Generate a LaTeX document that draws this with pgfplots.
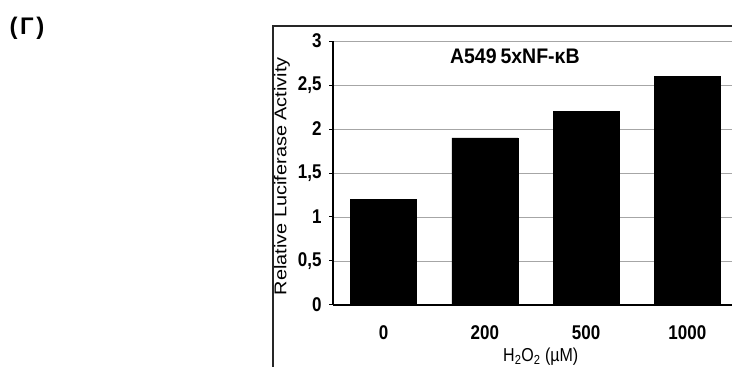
\documentclass[border=0pt]{standalone}
\usepackage{pgfplots}
\pgfplotsset{compat=1.18}
\usepackage{fontspec}
\setmainfont{Liberation Sans}
\newcommand{\vs}[1]{\scalebox{1}[1.17]{#1}}
\begin{document}
\begin{tikzpicture}[x=1pt,y=1pt]
\useasboundingbox (0,0) rectangle (732,367);
\clip (0,0) rectangle (732,367);
\node[font=\fontsize{24}{26}\selectfont\bfseries] at (27,338.5) {(\hspace{2.5pt}Г\hspace{2.5pt})};
\draw[line width=1.4pt, black!85] (273,-20) -- (273,341) -- (760,341);
\begin{axis}[
  at={(333pt,62pt)}, anchor=south west,
  scale only axis, width=405pt, height=264pt,
  xmin=-0.5, xmax=3.5, ymin=0, ymax=3,
  axis x line*=bottom, axis y line*=left,
  axis line style={line width=1.3pt, black},
  ymajorgrids, grid style={gray!70, line width=0.9pt},
  ytick={0,0.5,1,1.5,2,2.5,3},
  yticklabels={\vs{0},\vs{0,5},\vs{1},\vs{1,5},\vs{2},\vs{2,5},\vs{3}},
  xtick={0,1,2,3}, xticklabels={\vs{0},\vs{200},\vs{500},\vs{1000}},
  x tick style={draw=none},
  y tick style={black, line width=1pt},
  major tick length=4pt, tick align=outside,
  yticklabel style={font=\fontsize{17}{19}\selectfont\bfseries, xshift=-4pt},
  xticklabel style={font=\fontsize{17}{19}\selectfont\bfseries, yshift=-13pt},
  ylabel={\scalebox{1.17}[1]{Relative Luciferase Activity}},
  ylabel style={font=\fontsize{17}{19}\selectfont, at={(axis description cs:-0.126,0.488)}, anchor=center, rotate=0},
  xlabel={\vs{H\textsubscript{2}O\textsubscript{2} (µM)}},
  xlabel style={font=\fontsize{16}{18}\selectfont, at={(axis description cs:0.513,0)}, anchor=center, yshift=-52pt},
  clip=false,
]
\addplot[ybar, bar width=66pt, fill=black, draw=black] coordinates {(0,1.2) (1,1.9) (2,2.2) (3,2.6)};
\node[font=\fontsize{19.5}{21}\selectfont\bfseries] at (axis description cs:0.449,0.943) {\scalebox{1}[1.08]{A549\hspace{0.2em}5xNF-κB}};
\end{axis}
\end{tikzpicture}
\end{document}
